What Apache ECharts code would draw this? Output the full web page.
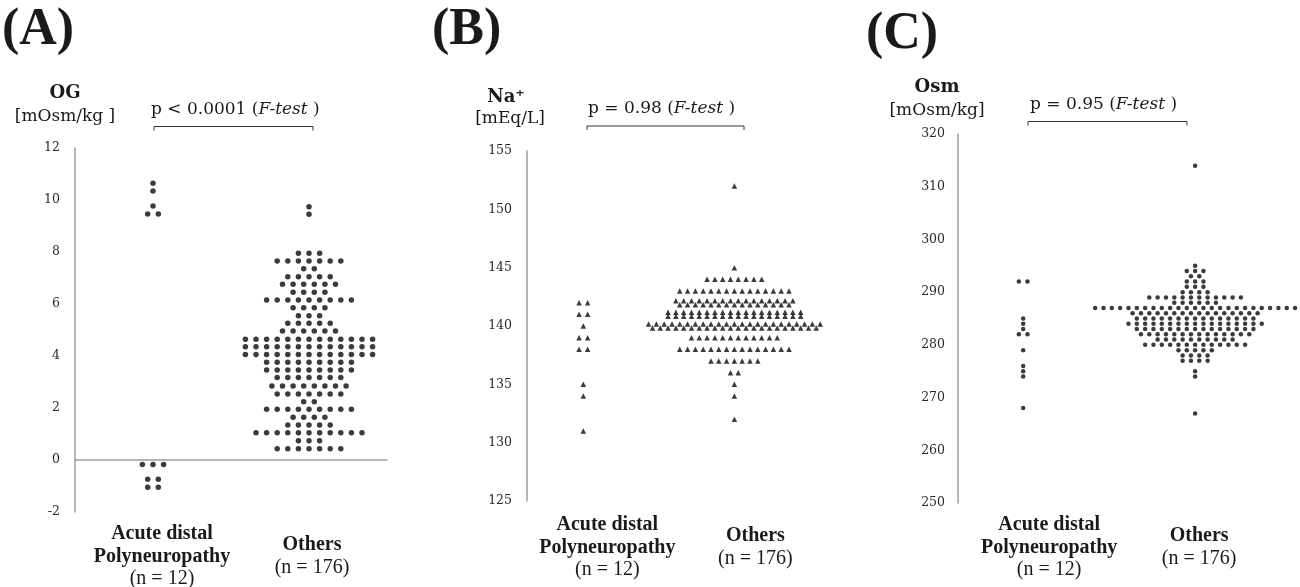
<!DOCTYPE html>
<html><head><meta charset="utf-8">
<script src="https://cdn.jsdelivr.net/npm/echarts@6/dist/echarts.min.js"></script>
<style>html,body{margin:0;padding:0;background:#fff}#c{width:1300px;height:587px}</style>
</head><body><div id="c"></div>
<script>
// ---- data: rows of [value, number of subjects at that value] ----
const categories = ['Acute distal\nPolyneuropathy', 'Others'];
const groupN = [12, 176];

const ogAdp = [[10.64,1],[10.35,1],[9.77,1],[9.46,2],[-0.17,3],[-0.74,2],[-1.05,2]];
const ogOthers = [[9.74,1],[9.45,1],[7.95,3],[7.65,7],[7.36,2],[7.05,5],[6.76,6],[6.45,4],[6.15,9],[5.86,4],
  [5.55,3],[5.26,5],[4.96,6],[4.64,13],[4.36,13],[4.06,13],[3.76,9],[3.46,9],[3.17,7],[2.85,8],[2.54,7],
  [2.24,2],[1.95,9],[1.64,4],[1.35,5],[1.05,11],[0.74,3],[0.43,7]];

const naAdp = [[142,2],[141,2],[140,1],[139,2],[138,2],[135,1],[134,1],[131,1]];
const naOthers = [[152,1],[145,1],[144,8],[143,15],[142,31],[141,36],[140,45],[139,12],[138,15],[137,7],
  [136,2],[135,1],[134,1],[132,1]];

const osmAdp = [[292,2],[285,1],[284,1],[283,1],[282,2],[279,1],[276,1],[275,1],[274,1],[268,1]];
const osmOthers = [[314,1],[295,1],[294,3],[293,2],[292,3],[291,3],[290,4],[289,12],[288,6],[287,25],
  [286,16],[285,15],[284,17],[283,15],[282,14],[281,10],[280,13],[279,5],[278,4],[277,4],[275,1],[274,1],[267,1]];

const ogTicks = {min:-2, max:12, interval:2};
const naTicks = {min:125, max:155, interval:5};
const osmTicks = {min:250, max:320, interval:10};

// ---- dot-plot layout: spread each row horizontally around the group position ----
function swarm(rows, pos, spacing, maxCols, dy) {
  const out = [];
  rows.forEach(([v, n]) => {
    const lines = n > maxCols ? [[Math.ceil(n/2), -dy],[Math.floor(n/2), dy]] : [[n, 0]];
    lines.forEach(([m, oy]) => {
      for (let i = 0; i < m; i++) out.push({value:[pos, v], symbolOffset:[(i-(m-1)/2)*spacing, oy]});
    });
  });
  return out;
}

const SERIF = 'DejaVu Serif';
const LSERIF = 'Liberation Serif';
const AX = '#9e9e9e';
const DOT = '#0a0a0a';

// category label with a small horizontal nudge (px) per category
function labelSpec(shifts) {
  const rich = {};
  shifts.forEach((dx, i) => {
    rich['b' + i] = {fontFamily:LSERIF, fontWeight:'bold', fontSize:20, lineHeight:23, color:'#1a1a1a', padding:[0,0,0,2*dx]};
    rich['r' + i] = {fontFamily:LSERIF, fontSize:20, lineHeight:22, color:'#1a1a1a', padding:[0,0,0,2*dx]};
  });
  const formatter = v => {
    const i = Math.round(v) - 1;
    if (i < 0 || i > 1) return '';
    const lines = categories[i].split('\n').map(s => '{b' + i + '|' + s + '}');
    lines.push('{r' + i + '|(n = ' + groupN[i] + ')}');
    return lines.join('\n');
  };
  return {rich, formatter};
}

function xAxisDef(idx, min, max, showLine, margin, shifts) {
  const ls = labelSpec(shifts);
  return {gridIndex:idx, type:'value', min:min, max:max,
    axisLine:{show:showLine, onZero:true, lineStyle:{color:AX, width:1.5}},
    axisTick:{show:false}, splitLine:{show:false},
    axisLabel:{show:true, customValues:[1,2], formatter:ls.formatter, rich:ls.rich, hideOverlap:false,
      verticalAlign:'middle', margin:margin, color:'#1a1a1a'}};
}
function yAxisDef(idx, t, margin) {
  return {gridIndex:idx, type:'value', min:t.min, max:t.max, interval:t.interval,
    axisLine:{show:true, lineStyle:{color:AX, width:1.5}},
    axisTick:{show:false}, splitLine:{show:false},
    axisLabel:{fontFamily:SERIF, fontSize:12.5, color:'#2a2a2a', margin:margin}};
}
function dots(idx, data, symbol, size) {
  return {type:'scatter', xAxisIndex:idx, yAxisIndex:idx, data:data, symbol:symbol, symbolSize:size,
    itemStyle:{color:DOT}, silent:true, emphasis:{disabled:true}, z:3};
}

function txt(x, y, text, font, align, extra) {
  return Object.assign({type:'text', x:x, y:y, silent:true,
    style:{text:text, font:font, fill:'#1a1a1a', align:align||'center', verticalAlign:'middle'}}, extra||{});
}
function pText(x, y, pre) {
  return {type:'text', x:x, y:y, silent:true, style:{text: pre + ' ({i|F-test} )', font:'17px "' + SERIF + '"',
    fill:'#1a1a1a', align:'left', verticalAlign:'middle',
    rich:{i:{fontFamily:SERIF, fontStyle:'italic', fontSize:17, fill:'#1a1a1a'}}}};
}
function bracket(x1, x2, y) {
  return {type:'polyline', silent:true, shape:{points:[[x1,y+4],[x1,y],[x2,y],[x2,y+4]]},
    style:{stroke:'#333', lineWidth:1, fill:null}};
}

const option = {
  animation:false,
  grid:[
    {left:75, top:148, width:312, height:364, outerBoundsMode:'none'},
    {left:527, top:151, width:298, height:350, outerBoundsMode:'none'},
    {left:958, top:134, width:342, height:369, outerBoundsMode:'none'}
  ],
  xAxis:[
    xAxisDef(0, 0.5, 2.5, true, 44, [9, 3]),
    xAxisDef(1, 0.627, 2.6, false, 46, [24, 21]),
    xAxisDef(2, 0.621, 2.61, false, 44, [26, 4])
  ],
  yAxis:[yAxisDef(0, ogTicks, 15), yAxisDef(1, naTicks, 15), yAxisDef(2, osmTicks, 13)],
  series:[
    dots(0, swarm(ogAdp, 1, 10.6, 20, 0), 'circle', 5.5),
    dots(0, swarm(ogOthers, 2, 10.6, 20, 0), 'circle', 5.5),
    dots(1, swarm(naAdp, 1, 8.6, 18, 2), 'triangle', 5.5),
    dots(1, swarm(naOthers, 2, 7.8, 18, 2), 'triangle', 5.5),
    dots(2, swarm(osmAdp, 1, 8.6, 30, 0), 'circle', 4.5),
    dots(2, swarm(osmOthers, 2, 8.33, 30, 0), 'circle', 4.5)
  ],
  graphic:[
    txt(2, 31, '(A)', 'bold 52px "' + LSERIF + '"', 'left'),
    txt(432, 31, '(B)', 'bold 52px "' + LSERIF + '"', 'left'),
    txt(866, 35, '(C)', 'bold 52px "' + LSERIF + '"', 'left'),
    txt(65, 93, 'OG', 'bold 18px "' + SERIF + '"'),
    txt(65, 117, '[mOsm/kg ]', '17px "' + SERIF + '"'),
    txt(506, 97, 'Na⁺', 'bold 18px "' + SERIF + '"'),
    txt(510, 119, '[mEq/L]', '17px "' + SERIF + '"'),
    txt(937, 87, 'Osm', 'bold 18px "' + SERIF + '"'),
    txt(937, 111, '[mOsm/kg]', '17px "' + SERIF + '"'),
    pText(151, 110, 'p < 0.0001'),
    pText(588, 109, 'p = 0.98'),
    pText(1030, 105, 'p = 0.95'),
    bracket(154, 313, 126.5),
    bracket(587, 744, 126),
    bracket(1028, 1187, 121.5)
  ]
};
const chart = echarts.init(document.getElementById('c'), null, {renderer:'canvas'});
chart.setOption(option);
</script></body></html>
